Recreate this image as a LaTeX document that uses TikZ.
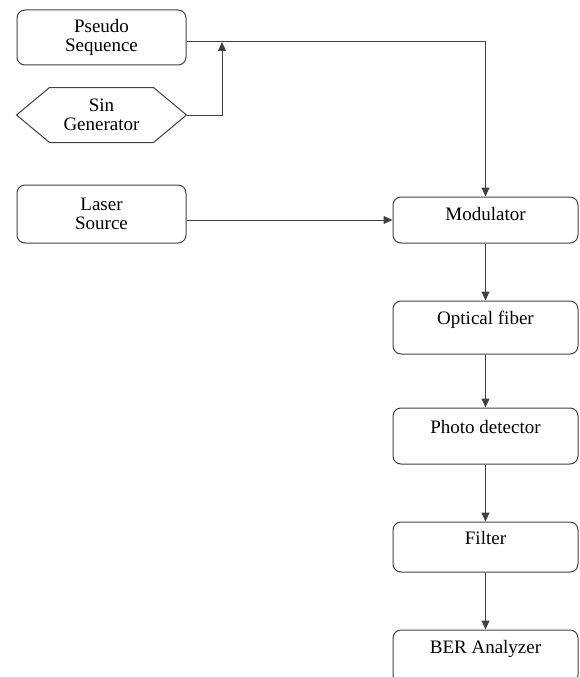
\documentclass[tikz,border=0pt]{standalone}
\usepackage{fontspec}
\setmainfont{Liberation Serif}
\usetikzlibrary{arrows.meta,positioning}
\definecolor{lGray}{gray}{0.25}
\tikzset{
    box/.style={rectangle, rounded corners=8pt, draw=lGray, line width=1pt, align=center,
                minimum width=169pt, minimum height=55pt, inner sep=0pt,
                font=\fontsize{19}{19.5}\selectfont},
    rbox/.style={box, minimum width=185pt, minimum height=53pt, text height=13pt, text depth=19pt},
    flow/.style={draw=lGray, line width=1pt, -{Triangle[length=9pt,width=8pt]}}
}
\begin{document}
\begin{tikzpicture}[x=1pt,y=-1pt]
\useasboundingbox (0,0) rectangle (579,677);
% sources
\node[box] (pseudo) at (101.5, 37.5) {Pseudo\\Sequence};
\node[box, draw=none, minimum height=54pt] (sin) at (101.5, 115) {Sin\\Generator};
\draw[lGray, line width=1pt] (sin.west) -- ([xshift=33pt]sin.north west) -- ([xshift=-33pt]sin.north east)
    -- (sin.east) -- ([xshift=-33pt]sin.south east) -- ([xshift=33pt]sin.south west) -- cycle;
\node[box, minimum height=58pt] (laser) at (101.5, 214) {Laser\\Source};
% chain
\node[rbox, minimum height=46pt, text depth=12pt] (mod) at (485.5, 220) {Modulator};
\node[rbox] (fiber) at (485.5, 327.5) {Optical fiber};
\node[rbox, minimum height=56pt] (photo) at (485.5, 436) {Photo detector};
\node[rbox, minimum height=50pt, text depth=18pt] (filter) at (485.5, 547) {Filter};
\node[rbox] (ber) at (485.5, 656.5) {BER Analyzer};
\coordinate (join) at (222, 42);
% connectors
\draw[flow] (sin.east) -| (join);
\draw[flow] (pseudo.east |- join) -| (mod.north);
\draw[flow] (laser.east |- mod.west) -- (mod.west);
\draw[flow] (mod) -- (fiber);
\draw[flow] (fiber) -- (photo);
\draw[flow] (photo) -- (filter);
\draw[flow] (filter) -- (ber);
\end{tikzpicture}
\end{document}
